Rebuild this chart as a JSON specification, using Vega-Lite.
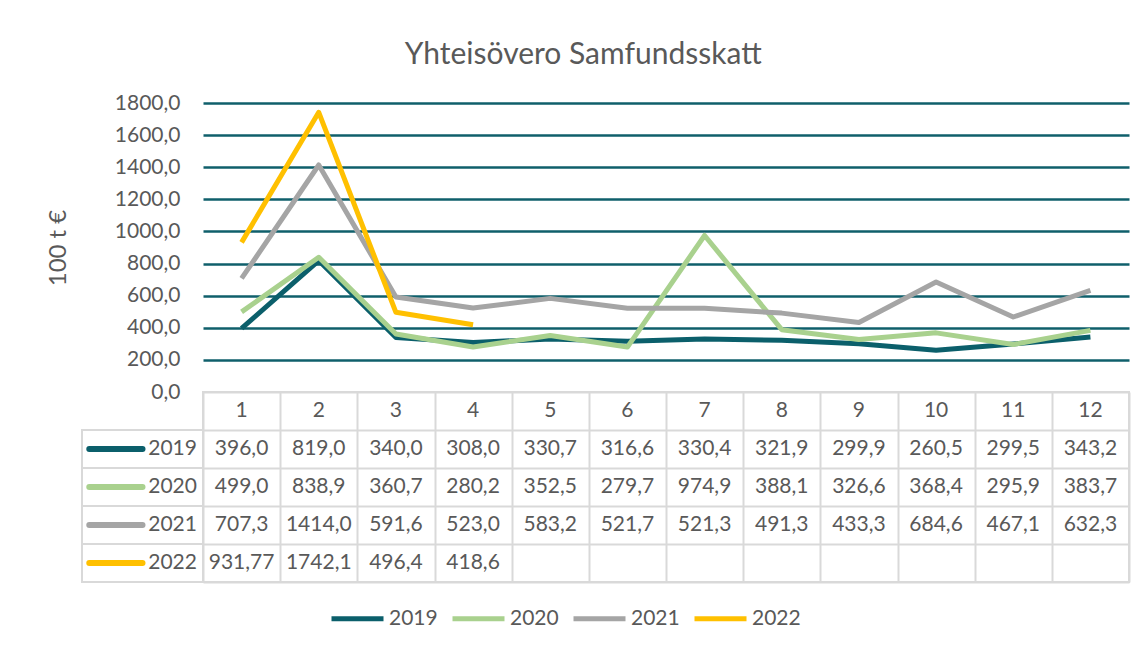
{
  "$schema": "https://vega.github.io/schema/vega-lite/v6.json",
  "padding": {"left": 46, "top": 40, "right": 10, "bottom": 10},
  "background": "white",
  "config": {
    "font": "Lato",
    "view": {"stroke": null},
    "text": {"color": "#595959", "font": "Lato"},
    "legend": {"labelFont": "Lato"}
  },
  "title": {
    "text": "Yhteisövero Samfundsskatt",
    "fontSize": 30,
    "fontWeight": "normal",
    "font": "Lato",
    "color": "#595959",
    "anchor": "middle",
    "offset": 22,
    "dx": -5
  },
  "data": {
    "values": [
      {"series": "2019", "month": 1, "value": 396.0, "label": "396,0"},
      {"series": "2019", "month": 2, "value": 819.0, "label": "819,0"},
      {"series": "2019", "month": 3, "value": 340.0, "label": "340,0"},
      {"series": "2019", "month": 4, "value": 308.0, "label": "308,0"},
      {"series": "2019", "month": 5, "value": 330.7, "label": "330,7"},
      {"series": "2019", "month": 6, "value": 316.6, "label": "316,6"},
      {"series": "2019", "month": 7, "value": 330.4, "label": "330,4"},
      {"series": "2019", "month": 8, "value": 321.9, "label": "321,9"},
      {"series": "2019", "month": 9, "value": 299.9, "label": "299,9"},
      {"series": "2019", "month": 10, "value": 260.5, "label": "260,5"},
      {"series": "2019", "month": 11, "value": 299.5, "label": "299,5"},
      {"series": "2019", "month": 12, "value": 343.2, "label": "343,2"},
      {"series": "2020", "month": 1, "value": 499.0, "label": "499,0"},
      {"series": "2020", "month": 2, "value": 838.9, "label": "838,9"},
      {"series": "2020", "month": 3, "value": 360.7, "label": "360,7"},
      {"series": "2020", "month": 4, "value": 280.2, "label": "280,2"},
      {"series": "2020", "month": 5, "value": 352.5, "label": "352,5"},
      {"series": "2020", "month": 6, "value": 279.7, "label": "279,7"},
      {"series": "2020", "month": 7, "value": 974.9, "label": "974,9"},
      {"series": "2020", "month": 8, "value": 388.1, "label": "388,1"},
      {"series": "2020", "month": 9, "value": 326.6, "label": "326,6"},
      {"series": "2020", "month": 10, "value": 368.4, "label": "368,4"},
      {"series": "2020", "month": 11, "value": 295.9, "label": "295,9"},
      {"series": "2020", "month": 12, "value": 383.7, "label": "383,7"},
      {"series": "2021", "month": 1, "value": 707.3, "label": "707,3"},
      {"series": "2021", "month": 2, "value": 1414.0, "label": "1414,0"},
      {"series": "2021", "month": 3, "value": 591.6, "label": "591,6"},
      {"series": "2021", "month": 4, "value": 523.0, "label": "523,0"},
      {"series": "2021", "month": 5, "value": 583.2, "label": "583,2"},
      {"series": "2021", "month": 6, "value": 521.7, "label": "521,7"},
      {"series": "2021", "month": 7, "value": 521.3, "label": "521,3"},
      {"series": "2021", "month": 8, "value": 491.3, "label": "491,3"},
      {"series": "2021", "month": 9, "value": 433.3, "label": "433,3"},
      {"series": "2021", "month": 10, "value": 684.6, "label": "684,6"},
      {"series": "2021", "month": 11, "value": 467.1, "label": "467,1"},
      {"series": "2021", "month": 12, "value": 632.3, "label": "632,3"},
      {"series": "2022", "month": 1, "value": 931.77, "label": "931,77"},
      {"series": "2022", "month": 2, "value": 1742.1, "label": "1742,1"},
      {"series": "2022", "month": 3, "value": 496.4, "label": "496,4"},
      {"series": "2022", "month": 4, "value": 418.6, "label": "418,6"}
    ]
  },
  "columns": 2,
  "bounds": "flush",
  "spacing": {"row": 0, "column": 0},
  "resolve": {"scale": {"color": "shared"}},
  "concat": [
    {
      "width": 121,
      "height": 289,
      "data": {"values": [{}]},
      "mark": {"type": "text"},
      "encoding": {"text": {"value": ""}}
    },
    {
      "width": 926,
      "height": 289,
      "mark": {"type": "line", "strokeWidth": 5, "strokeJoin": "round", "strokeCap": "butt"},
      "encoding": {
        "x": {
          "field": "month",
          "type": "ordinal",
          "scale": {"type": "point", "padding": 0.5, "domain": [1,2,3,4,5,6,7,8,9,10,11,12]},
          "axis": null
        },
        "y": {
          "field": "value",
          "type": "quantitative",
          "scale": {"domain": [0, 1800], "nice": false, "zero": true},
          "axis": {
            "values": [0, 200, 400, 600, 800, 1000, 1200, 1400, 1600, 1800],
            "labelExpr": "replace(format(datum.value, '.1f'), '.', ',')",
            "title": "100 t €",
            "titleFont": "Lato",
            "titleFontSize": 24,
            "titleFontWeight": "normal",
            "titleColor": "#595959",
            "titlePadding": 44,
            "labelFont": "Lato",
            "labelFontSize": 21,
            "labelColor": "#595959",
            "labelPadding": 23,
            "ticks": false,
            "domain": false,
            "grid": true,
            "gridColor": "#0f5f6b",
            "gridWidth": 2.5,
            "gridOpacity": {"condition": {"test": "datum.value === 0", "value": 0}, "value": 1}
          }
        },
        "color": {
          "field": "series",
          "type": "nominal",
          "scale": {"domain": ["2019", "2020", "2021", "2022"], "range": ["#0b5f6b", "#a9d18e", "#a5a5a5", "#ffc000"]},
          "legend": {
            "orient": "none",
            "legendX": 247,
            "legendY": 487,
            "direction": "horizontal",
            "title": null,
            "symbolType": "stroke",
            "symbolSize": 2704,
            "symbolStrokeWidth": 5,
            "labelFontSize": 21,
            "labelColor": "#595959",
            "labelFont": "Lato",
            "columnPadding": 4,
            "labelOffset": 3
          }
        }
      }
    },
    {
      "width": 121,
      "height": 190,
      "transform": [{"filter": "datum.month === 1"}],
      "layer": [
        {
          "mark": {"type": "rect", "fill": "white", "stroke": "#d9d9d9", "strokeWidth": 2},
          "encoding": {
            "x": {"datum": 0, "type": "quantitative", "scale": {"domain": [0, 1], "nice": false, "zero": false}, "axis": null},
            "x2": {"datum": 1},
            "y": {"field": "series", "type": "nominal", "scale": {"domain": ["hdr", "2019", "2020", "2021", "2022"], "paddingInner": 0, "paddingOuter": 0}, "axis": null}
          }
        },
        {
          "mark": {"type": "rule", "strokeWidth": 6, "strokeCap": "round"},
          "encoding": {
            "x": {"datum": 0.06, "type": "quantitative"},
            "x2": {"datum": 0.5},
            "y": {"field": "series", "type": "nominal"},
            "color": {"field": "series", "type": "nominal", "scale": {"domain": ["2019", "2020", "2021", "2022"], "range": ["#0b5f6b", "#a9d18e", "#a5a5a5", "#ffc000"]}}
          }
        },
        {
          "mark": {"type": "text", "align": "right", "fontSize": 21, "color": "#595959"},
          "encoding": {
            "x": {"datum": 0.95, "type": "quantitative"},
            "y": {"field": "series", "type": "nominal"},
            "text": {"field": "series"}
          }
        }
      ]
    },
    {
      "width": 926,
      "height": 190,
      "view": {"stroke": "#d9d9d9", "strokeWidth": 2},
      "encoding": {
        "x": {
          "field": "month",
          "type": "ordinal",
          "scale": {"type": "band", "domain": [1,2,3,4,5,6,7,8,9,10,11,12], "paddingInner": 0, "paddingOuter": 0},
          "axis": {"labels": false, "ticks": false, "domain": false, "title": null, "grid": true, "tickBand": "extent", "gridColor": "#d9d9d9", "gridWidth": 2}
        }
      },
      "layer": [
        {
          "transform": [{"filter": "datum.series === '2019'"}],
          "mark": {"type": "text", "fontSize": 21, "color": "#595959"},
          "encoding": {
            "y": {
              "datum": "hdr",
              "type": "nominal",
              "scale": {"domain": ["hdr", "2019", "2020", "2021", "2022"], "paddingInner": 0, "paddingOuter": 0},
              "axis": {"labels": false, "ticks": false, "domain": false, "title": null, "grid": true, "tickBand": "extent", "gridColor": "#d9d9d9", "gridWidth": 2}
            },
            "text": {"field": "month"}
          }
        },
        {
          "mark": {"type": "text", "fontSize": 21, "color": "#595959"},
          "encoding": {
            "y": {"field": "series", "type": "nominal"},
            "text": {"field": "label"}
          }
        }
      ]
    }
  ]
}
